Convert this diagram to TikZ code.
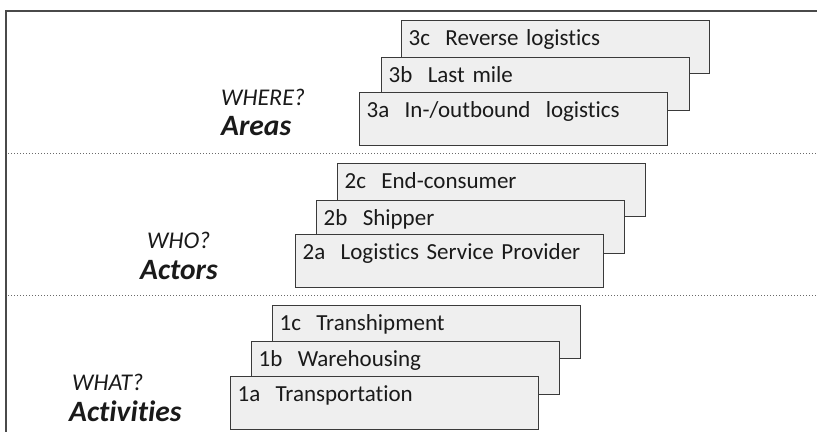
\documentclass[tikz,border=0pt]{standalone}
\usepackage{fontspec}
\setmainfont[Ligatures=NoCommon]{Carlito}
\usepackage{tikz}
\usepackage{xcolor}
\usetikzlibrary{positioning}
\definecolor{ink}{HTML}{1A1A1A}
\definecolor{boxline}{HTML}{3A3A3A}
\definecolor{boxfill}{HTML}{EFEFEF}
\definecolor{frameline}{HTML}{4A4A4A}
\definecolor{sepgray}{HTML}{6A6A6A}
\tikzset{
  layerbox/.style={draw=boxline,fill=boxfill,line width=1.4pt,
                   text width=294pt,inner xsep=7pt,inner ysep=0pt,
                   text height=25pt,text depth=28pt,align=left,
                   anchor=north west,text=ink,
                   font=\fontsize{23}{27}\selectfont},
  question/.style={anchor=base west,inner sep=0pt,text=ink,
                   font=\fontsize{24}{28}\selectfont\itshape},
  dimension/.style={anchor=base west,inner sep=0pt,text=ink,
                    font=\fontsize{29.5}{33}\selectfont\bfseries\itshape},
  sepline/.style={draw=sepgray,dotted,line width=1pt},
  border/.style={draw=frameline,line width=1.6pt}
}
\begin{document}
\begin{tikzpicture}[x=1pt,y=-1pt]
  \useasboundingbox (0,0) rectangle (817,432);
  % frame and separators
  \draw[border] (817,11) -- (6,11) -- (6,432);
  \draw[sepline] (8,153) -- (817,153);
  \draw[sepline] (8,295) -- (817,295);
  % areas
  \node[layerbox] (area3c) at (401,20) {3c\ \ Reverse logistics};
  \node[layerbox] (area3b) at (381,57) {3b\ \ Last mile};
  \node[layerbox] (area3a) at (359,92) {3a\ \ In-/outbound\ \ logistics};
  \node[question] (where) at (221,105) {WHERE?};
  \node[dimension] (areas) at (221,135) {Areas};
  % actors
  \node[layerbox] (actor2c) at (337,163) {2c\ \ End-consumer};
  \node[layerbox] (actor2b) at (316,200) {2b\ \ Shipper};
  \node[layerbox] (actor2a) at (295,234) {2a\ \ Logistics Service Provider};
  \node[question] (who) at (147,248) {WHO?};
  \node[dimension] (actors) at (140,279) {Actors};
  % activities
  \node[layerbox] (act1c) at (272,305) {1c\ \ Transhipment};
  \node[layerbox] (act1b) at (251,341) {1b\ \ Warehousing};
  \node[layerbox] (act1a) at (230,376) {1a\ \ Transportation};
  \node[question] (what) at (72,390) {WHAT?};
  \node[dimension] (activities) at (69,421) {Activities};
\end{tikzpicture}
\end{document}
